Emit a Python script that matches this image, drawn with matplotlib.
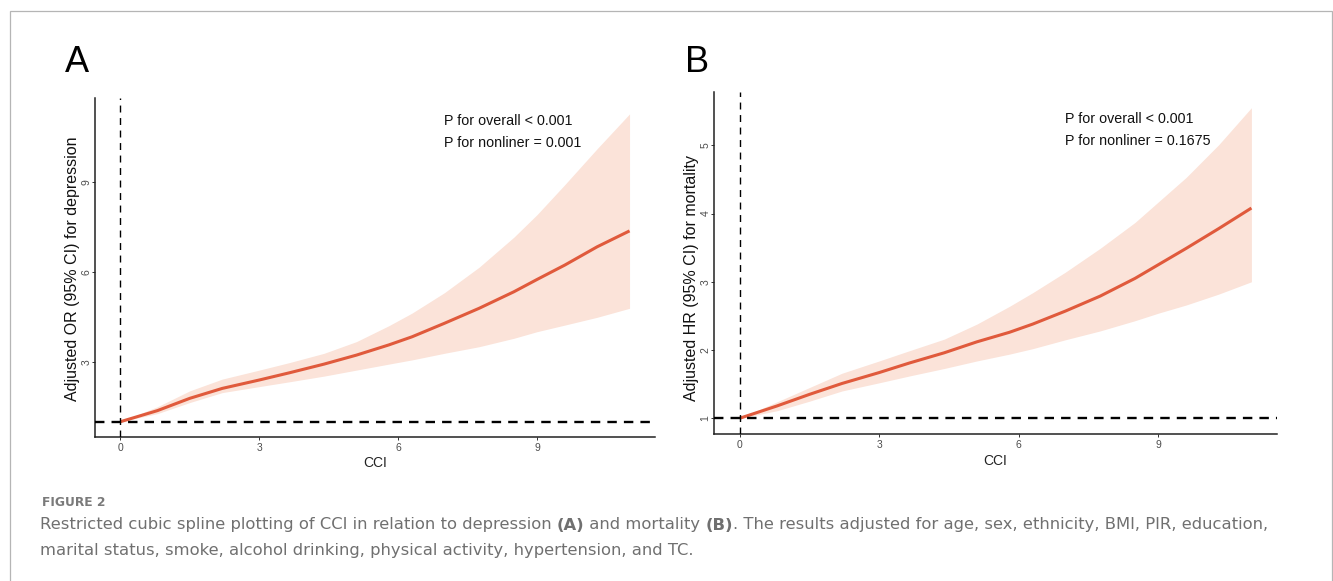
import matplotlib
matplotlib.use("Agg")
import matplotlib.pyplot as plt
from matplotlib.patches import Rectangle

W, H = 1333, 581

cci = [0, 0.8, 1.5, 2.2, 3, 3.65, 4.4, 5.1, 5.8, 6.3, 7.0, 7.75, 8.5, 9, 9.6, 10.3, 11]

# panel A: adjusted OR for depression
or_est = [1.0, 1.37, 1.78, 2.11, 2.39, 2.63, 2.92, 3.22, 3.56, 3.83, 4.28, 4.78, 5.33, 5.74, 6.22, 6.83, 7.36]
or_upper = [1.0, 1.50, 2.03, 2.42, 2.72, 2.97, 3.28, 3.67, 4.20, 4.62, 5.30, 6.15, 7.15, 7.90, 8.90, 10.10, 11.26]
or_lower = [1.0, 1.27, 1.64, 1.97, 2.17, 2.33, 2.52, 2.72, 2.92, 3.06, 3.28, 3.50, 3.78, 4.00, 4.22, 4.48, 4.78]

# panel B: adjusted HR for mortality
hr_est = [1.0, 1.18, 1.35, 1.51, 1.67, 1.81, 1.96, 2.12, 2.26, 2.38, 2.57, 2.79, 3.05, 3.25, 3.49, 3.78, 4.08]
hr_upper = [1.0, 1.24, 1.45, 1.66, 1.84, 1.99, 2.16, 2.38, 2.64, 2.84, 3.14, 3.49, 3.87, 4.17, 4.53, 5.01, 5.55]
hr_lower = [1.0, 1.11, 1.25, 1.40, 1.52, 1.62, 1.73, 1.84, 1.94, 2.02, 2.15, 2.28, 2.43, 2.54, 2.66, 2.82, 3.00]

ticks_x = [0, 3, 6, 9]
ticks_a = [3, 6, 9]
ticks_b = [1, 2, 3, 4, 5]

line_col = "#e05a3c"
band_col = "#fbe3d9"
sans = ["Liberation Sans", "DejaVu Sans"]
cap_font = ["DejaVu Sans"]

fig = plt.figure(figsize=(W / 100, H / 100), dpi=100)


def px_axes(left, top, right, bottom):
    return fig.add_axes([left / W, 1 - bottom / H, (right - left) / W, (bottom - top) / H])


def draw_panel(ax, est, lo, hi, yticks, ylim, ylabel, ylab_y, p_text, p_y):
    ax.fill_between(cci, lo, hi, color=band_col, lw=0, zorder=1)
    ax.plot(cci, est, color=line_col, lw=2.2, zorder=3, solid_capstyle="butt")
    ax.axvline(0, color="black", lw=1.0, ls=(0, (5, 4)), zorder=4)
    ax.axhline(1, color="black", lw=1.7, ls=(0, (4, 3)), zorder=4)
    ax.set_xlim(-0.55, 11.55)
    ax.set_ylim(*ylim)
    ax.set_xticks(ticks_x)
    ax.set_yticks(yticks)
    for s in ["top", "right"]:
        ax.spines[s].set_visible(False)
    for s in ["left", "bottom"]:
        ax.spines[s].set_linewidth(1.1)
        ax.spines[s].set_color("#222222")
    ax.tick_params(length=2.2, width=0.7, color="#333333", pad=2,
                   labelsize=7.5, labelcolor="#4d4d4d")
    ax.tick_params(axis="y", labelrotation=90, pad=0.3)
    for lab in ax.get_xticklabels() + ax.get_yticklabels():
        lab.set_family(sans)
    for lab in ax.get_yticklabels():
        lab.set_va("center")
    ax.set_xlabel("CCI", family=sans, fontsize=10, color="#222222", va="center")
    ax.xaxis.set_label_coords(0.5, -0.078)
    ax.set_ylabel(ylabel, family=sans, fontsize=11.5, color="#111111", va="center")
    ax.yaxis.set_label_coords(-0.04, ylab_y)
    for txt, yy in zip(p_text, p_y):
        ax.text(7.0, yy, txt, family=sans, fontsize=10.3, color="#111111",
                ha="left", va="center")


axA = px_axes(95, 98, 655, 437)
draw_panel(axA, or_est, or_lower, or_upper, ticks_a, (0.49, 11.79),
           "Adjusted OR (95% CI) for depression", 0.496,
           ["P for overall < 0.001", "P for nonliner = 0.001"], [11.02, 10.3])

axB = px_axes(714, 92, 1277, 434)
draw_panel(axB, hr_est, hr_lower, hr_upper, ticks_b, (0.77, 5.78),
           "Adjusted HR (95% CI) for mortality", 0.456,
           ["P for overall < 0.001", "P for nonliner = 0.1675"], [5.39, 5.06])

# panel letters
fig.text(65 / W, 1 - 62 / H, "A", family=sans, fontsize=26, ha="left", va="center")
fig.text(685 / W, 1 - 62 / H, "B", family=sans, fontsize=26, ha="left", va="center")

# frame around the figure
fig.patches.append(Rectangle((10 / W, -0.01), (1332 - 10) / W, 1.01 - 11 / H,
                             transform=fig.transFigure, fill=False,
                             edgecolor="#b5b5b5", lw=0.9))

# caption
cap_col = "#707070"
fig.text(42 / W, 1 - 503 / H, "FIGURE 2", family=cap_font, fontsize=8.8,
         fontweight="bold", color="#7a7a7a", ha="left", va="center")

renderer = fig.canvas.get_renderer()


def draw_runs(x_px, y_px, runs):
    x = x_px
    for s, weight in runs:
        t = fig.text(x / W, 1 - y_px / H, s, family=cap_font, fontsize=11.8,
                     fontweight=weight, color=cap_col, ha="left", va="center")
        x += t.get_window_extent(renderer=renderer).width


draw_runs(40, 525, [
    ("Restricted cubic spline plotting of CCI in relation to depression ", "normal"),
    ("(A)", "bold"),
    (" and mortality ", "normal"),
    ("(B)", "bold"),
    (". The results adjusted for age, sex, ethnicity, BMI, PIR, education,", "normal"),
])
draw_runs(40, 551, [
    ("marital status, smoke, alcohol drinking, physical activity, hypertension, and TC.", "normal"),
])

fig.savefig("out.png", dpi=100)
